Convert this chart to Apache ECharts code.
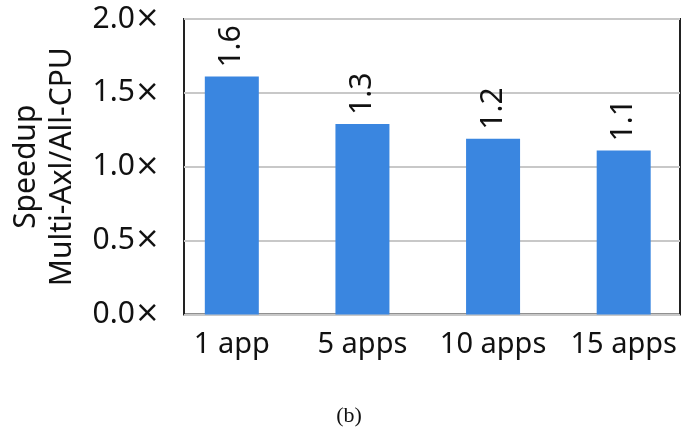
<!DOCTYPE html>
<html>
<head>
<meta charset="utf-8">
<script src="https://cdn.jsdelivr.net/npm/echarts@6/dist/echarts.min.js"></script>
<style>
  html, body { margin: 0; padding: 0; background: #fff; }
  #chart { width: 689px; height: 432px; }
</style>
</head>
<body>
<div id="chart"></div>
<script>
const categories = ["1 app", "5 apps", "10 apps", "15 apps"];
const speedup = [1.61, 1.29, 1.19, 1.11];
const barLabels = ["1.6", "1.3", "1.2", "1.1"];
const yTicks = [0, 0.5, 1.0, 1.5, 2.0];

const chart = echarts.init(document.getElementById("chart"));
const font = "Noto Sans";

const option = {
  animation: false,
  grid: [
    // frame + y axis
    {
      left: 183, right: 9, top: 19, bottom: 117.5,
      show: true, borderColor: "#222", borderWidth: 2,
      containLabel: false
    },
    // bars (wider band so bars sit like the reference)
    { left: 166.5, width: 532, top: 19, bottom: 117.5, containLabel: false }
  ],
  xAxis: [
    { gridIndex: 0, type: "category", data: categories, show: false },
    {
      gridIndex: 1,
      type: "category",
      data: categories,
      axisLine: { show: false },
      axisTick: { show: false },
      axisLabel: {
        interval: 0,
        margin: 16,
        fontFamily: font,
        fontSize: 29,
        color: "#111"
      }
    }
  ],
  yAxis: [
    {
      gridIndex: 0,
      type: "value",
      min: 0,
      max: 2,
      interval: 0.5,
      name: "Speedup\nMulti-Axl/All-CPU",
      nameLocation: "middle",
      nameGap: 104,
      nameTextStyle: { fontFamily: font, fontSize: 30, lineHeight: 36, color: "#111" },
      axisLine: { show: false },
      axisTick: { show: false },
      splitLine: { lineStyle: { color: "#c8c8c8", width: 2 } },
      axisLabel: {
        margin: 24,
        fontFamily: font,
        fontSize: 30,
        color: "#111",
        formatter: function (v) {
          return yTicks.indexOf(v) >= 0 ? "{n|" + v.toFixed(1) + "}{x|×}" : "";
        },
        rich: {
          n: { fontFamily: font, fontSize: 30, color: "#111" },
          x: { fontFamily: "DejaVu Sans", fontSize: 30, color: "#111" }
        }
      }
    },
    { gridIndex: 1, type: "value", min: 0, max: 2, show: false }
  ],
  series: [
    {
      type: "bar",
      xAxisIndex: 1,
      yAxisIndex: 1,
      data: speedup,
      barWidth: 54,
      itemStyle: { color: "#3a86e0" },
      label: {
        show: true,
        position: "top",
        rotate: 90,
        align: "left",
        verticalAlign: "middle",
        distance: 9,
        fontFamily: font,
        fontSize: 30,
        color: "#111",
        formatter: function (p) { return barLabels[p.dataIndex]; }
      }
    }
  ],
  graphic: [
    {
      type: "text",
      x: 349,
      y: 416,
      style: {
        text: "(b)",
        font: "22px 'Liberation Serif'",
        fill: "#111",
        textAlign: "center",
        textVerticalAlign: "middle"
      }
    }
  ]
};

chart.setOption(option);
</script>
</body>
</html>
